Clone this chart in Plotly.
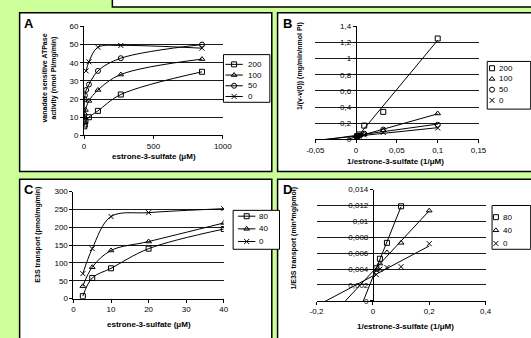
import numpy as np
import plotly.graph_objects as go

W, H = 531, 338

# ---------------- data ----------------
# Panel A : ATPase activity vs estrone-3-sulfate (uM)
a_x = [2, 5, 10, 35, 100, 265, 850]
a_200 = [5, 6, 8, 10, 13.5, 22.5, 35]
a_100 = [10, 12, 14, 19, 25, 33.5, 42]
a_50_x = [1, 3, 6, 15, 35, 100, 265, 850]
a_50 = [7.5, 20, 22, 25, 28, 35.5, 42.5, 50]
a_0_x = [15, 35, 100, 265, 850]
a_0 = [35.5, 40.5, 48.5, 49.5, 48]

# Panel B : double reciprocal
b_x = [0.1, 0.0333, 0.01, 0.0038, 0.0012]
b_200 = [1.25, 0.34, 0.17, 0.06, 0.04]
b_100 = [0.32, 0.11, 0.065, 0.045, 0.035]
b_50 = [0.18, 0.12, 0.07, 0.045, 0.035]
b_0 = [0.14, 0.085, 0.055, 0.04, 0.03]

# Panel C : E3S transport vs estrone-3-sulfate (uM)
c_x = [2.5, 5, 10, 20, 40]
c_80 = [7, 58, 85, 140, 195]
c_40 = [35, 88, 135, 160, 212]
c_0 = [70, 140, 230, 241, 252]

# Panel D : double reciprocal
d_80_x = [0.1, 0.05, 0.025, 0.0125]
d_80 = [0.0119, 0.0073, 0.0053, 0.0041]
d_40_x = [0.2, 0.1, 0.05, 0.025, 0.0125]
d_40 = [0.01135, 0.0073, 0.0061, 0.0047, 0.0039]
d_0_x = [0.2, 0.1, 0.05, 0.025, 0.0125]
d_0 = [0.0072, 0.0043, 0.0042, 0.0040, 0.0033]

# series names
a_names = ["200", "100", "50", "0"]
b_names = ["200", "100", "50", "0"]
c_names = ["80", "40", "0"]
d_names = ["80", "40", "0"]

# tick labels
a_xticks = [0, 500, 1000]
a_yticks = [0, 10, 20, 30, 40, 50, 60]
b_xticks = [-0.05, 0, 0.05, 0.1, 0.15]
b_xtext = ["-0,05", "0", "0,05", "0,1", "0,15"]
b_yticks = [0, 0.2, 0.4, 0.6, 0.8, 1.0, 1.2, 1.4]
b_ytext = ["0", "0,2", "0,4", "0,6", "0,8", "1", "1,2", "1,4"]
c_xticks = [0, 10, 20, 30, 40]
c_yticks = [0, 50, 100, 150, 200, 250, 300]
d_xticks = [-0.2, 0, 0.2, 0.4]
d_xtext = ["-0,2", "0", "0,2", "0,4"]
d_yticks = [0, 0.002, 0.004, 0.006, 0.008, 0.010, 0.012, 0.014]
d_ytext = ["0", "0,002", "0,004", "0,006", "0,008", "0,01", "0,012", "0,014"]

# ---------------- helpers ----------------
FONT = "Arial, Liberation Sans, sans-serif"
BLACK = "#000000"
GRID = "#1a1a1a"
SYM4 = ["square-open", "triangle-up-open", "circle-open", "x-thin-open"]
SYM3 = ["square-open", "triangle-up-open", "x-thin-open"]


def px(x):
    return x / W


def py(y):
    return 1 - y / H


def mk(symbol):
    return dict(symbol=symbol, size=5, color=BLACK, line=dict(color=BLACK, width=1))


fig = go.Figure()

# Panel A traces
for name, xs, ys, sym in zip(a_names, [a_x, a_x, a_50_x, a_0_x], [a_200, a_100, a_50, a_0], SYM4):
    fig.add_trace(go.Scatter(x=xs, y=ys, name=name, mode="lines+markers", showlegend=False,
                             line=dict(color=BLACK, width=1, shape="spline", smoothing=1.0),
                             marker=mk(sym), xaxis="x", yaxis="y"))

# Panel B traces (linear trendlines + points)
b_series = [b_200, b_100, b_50, b_0]
for ys in b_series:
    k, c0 = np.polyfit(b_x, ys, 1)
    lx = np.array([b_xticks[0], max(b_x)])
    fig.add_trace(go.Scatter(x=lx, y=k * lx + c0, mode="lines", showlegend=False,
                             line=dict(color=BLACK, width=1), xaxis="x2", yaxis="y2",
                             hoverinfo="skip"))
for name, ys, sym in zip(b_names, b_series, SYM4):
    fig.add_trace(go.Scatter(x=b_x, y=ys, name=name, mode="markers", marker=mk(sym),
                             showlegend=False, xaxis="x2", yaxis="y2"))

# Panel C traces
for name, ys, sym in zip(c_names, [c_80, c_40, c_0], SYM3):
    fig.add_trace(go.Scatter(x=c_x, y=ys, name=name, mode="lines+markers", showlegend=False,
                             line=dict(color=BLACK, width=1, shape="spline", smoothing=1.0),
                             marker=mk(sym), xaxis="x3", yaxis="y3"))

# Panel D traces
d_xs = [d_80_x, d_40_x, d_0_x]
d_series = [d_80, d_40, d_0]
for xs, ys in zip(d_xs, d_series):
    k, c0 = np.polyfit(xs, ys, 1)
    lx = np.array([d_xticks[0], max(xs)])
    fig.add_trace(go.Scatter(x=lx, y=k * lx + c0, mode="lines", showlegend=False,
                             line=dict(color=BLACK, width=1), xaxis="x4", yaxis="y4",
                             hoverinfo="skip"))
for name, xs, ys, sym in zip(d_names, d_xs, d_series, SYM3):
    fig.add_trace(go.Scatter(x=xs, y=ys, name=name, mode="markers", marker=mk(sym),
                             showlegend=False, xaxis="x4", yaxis="y4"))

tickfont = dict(family=FONT, size=8, color=BLACK)


def xax(dom, rng, vals, text=None, anchor="y"):
    d = dict(domain=[px(dom[0]), px(dom[1])], range=rng, tickvals=vals, anchor=anchor,
             showgrid=False, zeroline=False, showline=True, linecolor=BLACK, linewidth=1,
             ticks="outside", ticklen=3, tickcolor=BLACK, tickfont=tickfont, fixedrange=True)
    if text:
        d["ticktext"] = text
    return d


def yax(dom, rng, vals, text=None, anchor="x", position=None):
    d = dict(domain=[py(dom[1]), py(dom[0])], range=rng, tickvals=vals,
             showgrid=True, gridcolor=GRID, gridwidth=1, zeroline=False,
             showline=True, linecolor=BLACK, linewidth=1,
             ticks="outside", ticklen=3, tickcolor=BLACK, tickfont=tickfont, fixedrange=True)
    if position is not None:
        d["anchor"] = "free"
        d["position"] = px(position)
    else:
        d["anchor"] = anchor
    if text:
        d["ticktext"] = text
    return d


shapes = []
annotations = []

# top white box
shapes.append(dict(type="rect", xref="paper", yref="paper", x0=px(107), x1=px(545),
                   y0=py(3), y1=py(-10), fillcolor="white", line=dict(color=BLACK, width=1.5),
                   layer="below"))
for (x0, y0, x1, y1) in [(11, 9, 272, 172), (278, 9, 545, 172),
                         (11, 180, 272, 350), (278, 180, 545, 350)]:
    shapes.append(dict(type="rect", xref="paper", yref="paper", x0=px(x0), x1=px(x1),
                       y0=py(y1), y1=py(y0), fillcolor="white",
                       line=dict(color=BLACK, width=1.5), layer="below"))


# ---- compact legends drawn on a full-figure key axis (pixel units) ----
def key(box, names, syms, y_first, step, with_line, sym_x, text_x):
    x0, y0, x1, y1 = box
    shapes.append(dict(type="rect", xref="paper", yref="paper", x0=px(x0), x1=px(x1),
                       y0=py(y1), y1=py(y0), fillcolor="white",
                       line=dict(color=BLACK, width=1), layer="below"))
    for i, (nm, sym) in enumerate(zip(names, syms)):
        yy = y_first + i * step
        if with_line:
            fig.add_trace(go.Scatter(x=[sym_x - 9, sym_x + 9], y=[yy, yy], mode="lines",
                                     line=dict(color=BLACK, width=1), showlegend=False,
                                     hoverinfo="skip", xaxis="x5", yaxis="y5"))
        fig.add_trace(go.Scatter(x=[sym_x], y=[yy], mode="markers", marker=mk(sym),
                                 showlegend=False, hoverinfo="skip", xaxis="x5", yaxis="y5"))
        annotations.append(dict(text=nm, x=px(text_x), y=py(yy), xref="paper", yref="paper",
                                xanchor="left", yanchor="middle", showarrow=False,
                                font=dict(family=FONT, size=8, color=BLACK)))


key((222, 52, 270, 101), a_names, SYM4, 62, 11, True, 233, 245)
key((495, 59, 540, 108), b_names, SYM4, 66, 11, False, 500, 505)
key((232, 212, 280, 252), c_names, SYM3, 218, 13, True, 246, 257)
key((500, 207, 540, 252), d_names, SYM3, 219, 13.5, False, 504, 509)

for lab, x, y in [("A", 13, 10), ("B", 282, 10), ("C", 13, 181), ("D", 282, 181)]:
    annotations.append(dict(text="<b>%s</b>" % lab, x=px(x), y=py(y), xref="paper", yref="paper",
                            xanchor="left", yanchor="top", showarrow=False,
                            font=dict(family=FONT, size=13, color=BLACK)))

tfont = dict(family=FONT, size=7, color=BLACK)
xfont = dict(family=FONT, size=8, color=BLACK)
for txt, x, y in [("vanadate sensitive ATPase<br>activity (nmol Pi/mg/min)", 42, 76),
                  ("1/(v-v(0)) (mg/min/nmol Pi)", 302, 64),
                  ("E3S transport (pmol/mg/min)", 30, 237),
                  ("1/E3S transport (min*mg/pmol)", 295, 241)]:
    annotations.append(dict(text="<b>%s</b>" % txt, x=px(x), y=py(y), xref="paper", yref="paper",
                            xanchor="center", yanchor="middle", textangle=-90, showarrow=False,
                            font=tfont))
for txt, x, y in [("estrone-3-sulfate (μM)", 150, 157),
                  ("1/estrone-3-sulfate (1/μM)", 400, 162),
                  ("estrone-3-sulfate (μM)", 145, 329),
                  ("1/estrone-3-sulfate (1/μM)", 410, 331)]:
    annotations.append(dict(text="<b>%s</b>" % txt, x=px(x), y=py(y), xref="paper", yref="paper",
                            xanchor="center", yanchor="middle", showarrow=False, font=xfont))

fig.update_layout(
    width=W, height=H, margin=dict(l=0, r=0, t=0, b=0),
    paper_bgcolor="#ccff99", plot_bgcolor="rgba(0,0,0,0)",
    font=dict(family=FONT, size=8, color=BLACK),
    xaxis=xax((77.7, 221.3), [0, 1000], a_xticks, anchor="y"),
    yaxis=yax((23, 135), [0, 60], a_yticks, anchor="x"),
    xaxis2=xax((317, 486), [-0.05, 0.15], b_xticks, b_xtext, anchor="y2"),
    yaxis2=yax((23, 139), [0, 1.4], b_yticks, b_ytext, position=359),
    xaxis3=xax((66.7, 222.3), [0, 40], c_xticks, anchor="y3"),
    yaxis3=yax((192.7, 302.7), [0, 300], c_yticks, anchor="x3"),
    xaxis4=xax((318.3, 493.3), [-0.2, 0.4], d_xticks, d_xtext, anchor="y4"),
    yaxis4=yax((190.7, 305), [0, 0.014], d_yticks, d_ytext, position=376.7),
    xaxis5=dict(domain=[0, 1], range=[0, W], anchor="y5", visible=False, fixedrange=True),
    yaxis5=dict(domain=[0, 1], range=[H, 0], anchor="x5", visible=False, fixedrange=True),
    shapes=shapes, annotations=annotations, showlegend=False,
)
fig.write_html("out.html", config={"displayModeBar": False},
               post_script="document.body.style.margin='0';document.body.style.overflow='hidden';")
